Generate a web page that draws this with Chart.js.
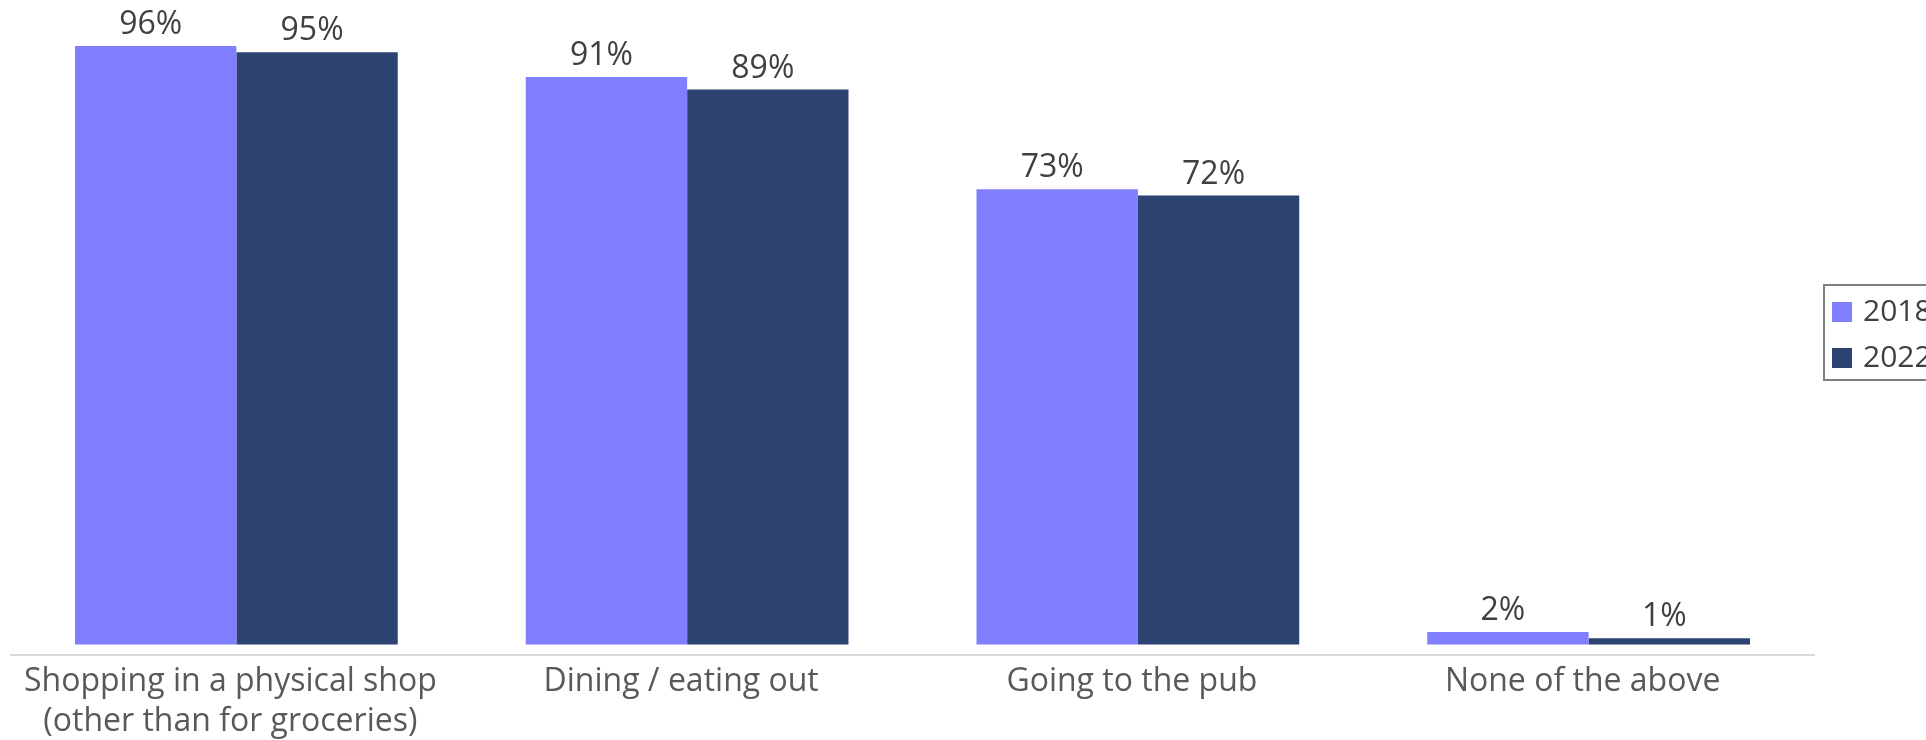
<!DOCTYPE html>
<html>
<head>
<meta charset="utf-8">
<script src="https://cdn.jsdelivr.net/npm/chart.js@4"></script>
<style>
  html, body { margin: 0; padding: 0; background: #fff; overflow: hidden; }
  #wrap { width: 1926px; height: 740px; }
</style>
</head>
<body>
<div id="wrap"><canvas id="activities_plot" width="1926" height="740"></canvas></div>
<script>
'use strict';

// Activities, as shown along the x axis
const categories = [
    ['Shopping in a physical shop', '(other than for groceries)'],
    'Dining / eating out',
    'Going to the pub',
    'None of the above'
];

// Share of respondents, percent
const years = ['2018', '2022'];
const values2018 = [96, 91, 73, 2];
const values2022 = [95, 89, 72, 1];

const COLOR_2018 = '#7f7fff';
const COLOR_2022 = '#2d4473';
const FONT_FAMILY = '"Open Sans", "Noto Sans", sans-serif';

// Percent labels above each bar (nudged a little left, as exported)
const valueLabels = {
    id: 'valueLabels',
    afterDatasetsDraw(chart) {
        const ctx = chart.ctx;
        ctx.save();
        ctx.font = '32px ' + FONT_FAMILY;
        ctx.fillStyle = '#404040';
        ctx.textAlign = 'center';
        ctx.textBaseline = 'bottom';
        chart.data.datasets.forEach((ds, i) => {
            const meta = chart.getDatasetMeta(i);
            meta.data.forEach((bar, j) => {
                ctx.fillText(ds.data[j] + '%', bar.x - 5, bar.y - 5);
            });
        });
        ctx.restore();
    }
};

// Boxed legend on the right, running off the canvas edge
const boxedLegend = {
    id: 'boxedLegend',
    afterDraw(chart) {
        const ctx = chart.ctx;
        const left = 1824, top = 285, bottom = 380;
        ctx.save();
        ctx.strokeStyle = '#7f7f7f';
        ctx.lineWidth = 2;
        ctx.strokeRect(left, top, 200, bottom - top);
        ctx.font = '30px ' + FONT_FAMILY;
        ctx.textBaseline = 'middle';
        chart.data.datasets.forEach((ds, i) => {
            const cy = 312 + i * 46;
            ctx.fillStyle = ds.backgroundColor;
            ctx.fillRect(left + 8, cy - 10, 20, 20);
            ctx.fillStyle = '#404040';
            ctx.fillText(ds.label, left + 39, cy);
        });
        ctx.restore();
    }
};

const data = {
    labels: categories,
    datasets: [
        { label: years[0], data: values2018, backgroundColor: COLOR_2018 },
        { label: years[1], data: values2022, backgroundColor: COLOR_2022 }
    ]
};

const config = {
    type: 'bar',
    data: data,
    plugins: [valueLabels, boxedLegend],
    options: {
        responsive: false,
        animation: false,
        layout: {
            padding: { top: 21, left: 11, right: 112, bottom: 0 }
        },
        datasets: {
            bar: {
                categoryPercentage: 0.716,
                barPercentage: 1.0
            }
        },
        plugins: {
            legend: { display: false },
            tooltip: { enabled: false }
        },
        scales: {
            x: {
                grid: { display: false },
                border: { color: '#d9d9d9', width: 2 },
                ticks: {
                    color: '#595959',
                    font: { family: FONT_FAMILY, size: 32, lineHeight: 1.25 },
                    maxRotation: 0,
                    autoSkip: false,
                    labelOffset: -6,
                    padding: -1
                },
                afterFit(scale) { scale.height = 85; }
            },
            y: {
                display: false,
                min: -1.7,
                max: 100
            }
        }
    }
};

new Chart(document.getElementById('activities_plot'), config);
</script>
</body>
</html>
